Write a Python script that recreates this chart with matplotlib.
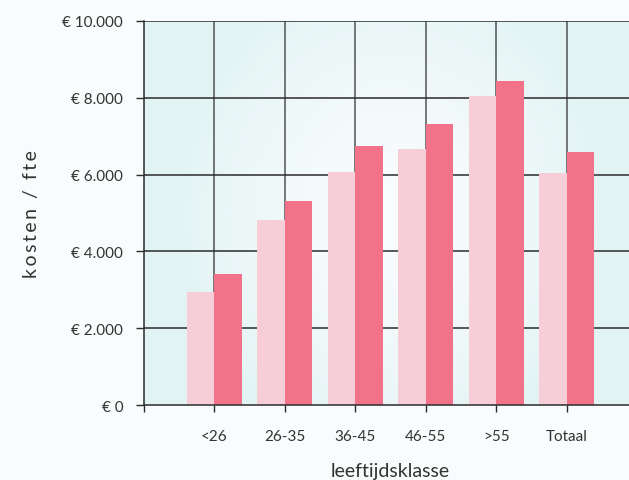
import numpy as np
import matplotlib.pyplot as plt
from matplotlib.ticker import FuncFormatter

plt.rcParams["font.family"] = ["Lato", "DejaVu Sans"]

categories = ["<26", "26-35", "36-45", "46-55", ">55", "Totaal"]
series_light = [2930, 4820, 6060, 6670, 8050, 6040]
series_dark = [3410, 5300, 6750, 7310, 8440, 6600]

LIGHT = "#f7cdd8"
DARK = "#f27289"
GRID = "#2b2b2b"
TEXT = "#333333"

fig = plt.figure(figsize=(6.29, 4.81), dpi=100, facecolor="#f8fcfd")
# axes runs past the right edge of the picture, like the original
ax = fig.add_axes([144 / 629, 1 - 406 / 481, (637 - 144) / 629, (406 - 22) / 481])

# soft teal background, whiter towards the middle
gx, gy = np.meshgrid(np.linspace(-1, 1, 300), np.linspace(-1, 1, 300))
r = np.clip(np.sqrt(gx ** 2 * 1.3 + gy ** 2 * 0.6), 0, 1)
c0 = np.array([0.975, 0.99, 0.995])
c1 = np.array([0.89, 0.955, 0.955])
img = c0 + (c1 - c0) * r[..., None] ** 1.5
ax.imshow(img, extent=[0, 7, 0, 10000], aspect="auto", zorder=0)

x = np.arange(1, len(categories) + 1)
w = 0.39
ax.bar(x - w / 2, series_light, width=w, color=LIGHT, zorder=3)
ax.bar(x + w / 2, series_dark, width=w, color=DARK, zorder=3)

ax.set_xlim(0, 7)
ax.set_ylim(0, 10000)
ax.set_yticks(np.arange(0, 10001, 2000))
ax.yaxis.set_major_formatter(FuncFormatter(lambda v, p: "€ " + f"{int(v):,}".replace(",", ".")))
ax.set_xticks(np.arange(0, 7))
ax.set_xticklabels([""] + categories)

for yv in np.arange(2000, 10001, 2000):
    ax.axhline(yv, color=GRID, lw=1.1, zorder=1)
for xv in x:
    ax.axvline(xv, color=GRID, lw=1.1, alpha=0.8, zorder=1)

for s in ["top", "right"]:
    ax.spines[s].set_visible(False)
for s in ["left", "bottom"]:
    ax.spines[s].set_color(GRID)
    ax.spines[s].set_linewidth(1.1)
    ax.spines[s].set_zorder(4)

ax.tick_params(axis="y", length=6, width=1, color=GRID, pad=9, labelsize=11, labelcolor=TEXT)
ax.tick_params(axis="x", length=5, width=1, color=GRID, pad=12, labelsize=11, labelcolor=TEXT)

ax.set_xlabel("leeftijdsklasse", fontsize=14, color=TEXT, labelpad=14)
ax.set_ylabel("\u2009".join("kosten") + "  /  " + "\u2009".join("fte"),
              fontsize=14, color=TEXT, labelpad=16)

plt.savefig("out.png", dpi=100, facecolor=fig.get_facecolor())
